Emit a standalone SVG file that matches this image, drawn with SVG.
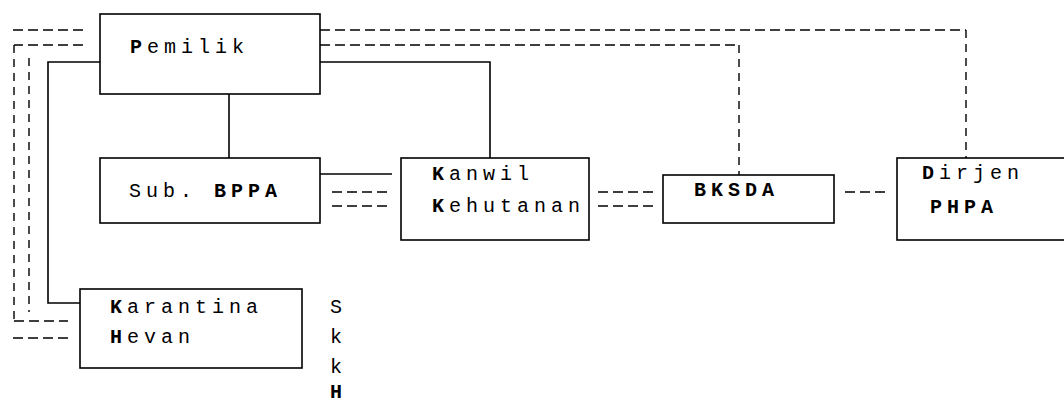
<svg xmlns="http://www.w3.org/2000/svg" width="1064" height="407" viewBox="0 0 1064 407">
  <style>
    .box { fill: #fff; stroke: #000; stroke-width: 1.6; }
    .solid { fill: none; stroke: #000; stroke-width: 1.6; }
    .dash { fill: none; stroke: #000; stroke-width: 1.4; stroke-dasharray: 10 5; }
    .vdash { fill: none; stroke: #000; stroke-width: 1.4; stroke-dasharray: 8 6; }
    .lbl { font-family: "Liberation Mono", "DejaVu Sans Mono", monospace; font-size: 20px; letter-spacing: 5px; fill: #000; }
    .b { font-weight: bold; }
  </style>

  <rect width="1064" height="407" fill="#fff"/>

  <!-- connectors -->
  <g id="connectors">
    <!-- solid reporting lines -->
    <path class="solid" d="M229 94 V158"/>
    <path class="solid" d="M320 62 H490 V158"/>
    <path class="solid" d="M100 62 H48 V303 H80"/>
    <path class="solid" d="M320 174 H392"/>
    <!-- dashed coordination lines -->
    <path class="dash" d="M320 30 H966"/>
    <path class="vdash" d="M966 30 V158"/>
    <path class="dash" d="M320 45 H739"/>
    <path class="vdash" d="M739 45 V175"/>
    <path class="dash" d="M83 30 H10"/>
    <path class="dash" d="M83 45 H14"/>
    <path class="vdash" d="M14 45 V321"/>
    <path class="dash" d="M14 321 H68"/>
    <path class="vdash" d="M29 58 V312"/>
    <path class="dash" d="M68 338 H10"/>
    <path class="dash" d="M332 192 H392"/>
    <path class="dash" d="M332 206 H392"/>
    <path class="dash" d="M598 192 H653"/>
    <path class="dash" d="M598 206 H653"/>
    <path class="dash" d="M845 192 H886"/>
  </g>

  <g id="pemilik">
    <rect class="box" x="100" y="14" width="220" height="80"/>
    <text class="lbl" x="130" y="53"><tspan class="b">P</tspan>emilik</text>
  </g>

  <g id="sub-bppa">
    <rect class="box" x="100" y="158" width="220" height="65"/>
    <text class="lbl" x="129" y="197">Sub. <tspan class="b">BPPA</tspan></text>
  </g>

  <g id="kanwil">
    <rect class="box" x="401" y="158" width="188" height="82"/>
    <text class="lbl" x="432" y="180"><tspan class="b">K</tspan>anwil</text>
    <text class="lbl" x="432" y="212"><tspan class="b">K</tspan>ehutanan</text>
  </g>

  <g id="bksda">
    <rect class="box" x="663" y="175" width="171" height="48"/>
    <text class="lbl b" x="694" y="196">BKSDA</text>
  </g>

  <g id="dirjen">
    <rect class="box" x="897" y="158" width="180" height="82"/>
    <text class="lbl" x="922" y="179"><tspan class="b">D</tspan>irjen</text>
    <text class="lbl b" x="930" y="213">PHPA</text>
  </g>

  <g id="karantina">
    <rect class="box" x="80" y="289" width="222" height="79"/>
    <text class="lbl" x="110" y="313"><tspan class="b">K</tspan>arantina</text>
    <text class="lbl" x="110" y="343"><tspan class="b">H</tspan>evan</text>
  </g>

  <g id="side-letters">
    <text class="lbl" x="330" y="313">S</text>
    <text class="lbl" x="330" y="343">k</text>
    <text class="lbl" x="330" y="373">k</text>
    <text class="lbl b" x="330" y="398">H</text>
  </g>
</svg>
